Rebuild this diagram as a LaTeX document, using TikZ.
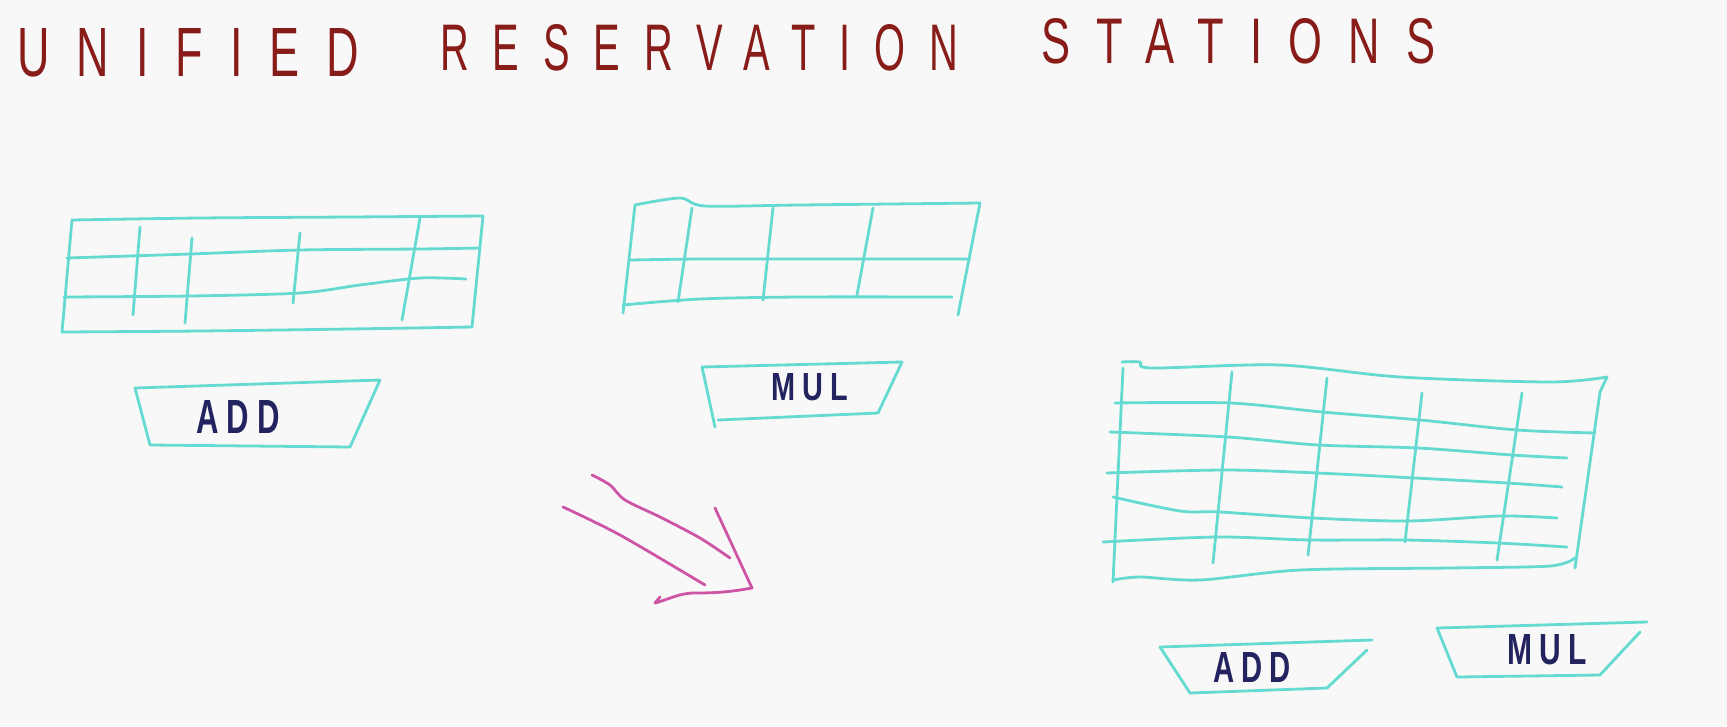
\documentclass[tikz,border=0pt]{standalone}
\usepackage{fontspec}
\setmainfont{Liberation Sans}
\newfontfamily\titlefont[LetterSpace=60]{Liberation Sans}
\newfontfamily\labelfont[LetterSpace=25]{Liberation Sans}
\definecolor{bgc}{RGB}{248,248,249}
\definecolor{gridc}{RGB}{100,218,208}
\definecolor{titlec}{RGB}{135,28,25}
\definecolor{navy}{RGB}{35,35,95}
\definecolor{pinkc}{RGB}{205,85,165}
\begin{document}
\begin{tikzpicture}[x=1pt,y=-1pt,
  grid/.style={draw=gridc, line width=2.8pt, line cap=round, line join=round},
  arr/.style={draw=pinkc, line width=2.8pt, line cap=round, line join=round},
  ttl/.style={inner sep=0pt, text=titlec},
  lbl/.style={inner sep=0pt, text=navy}]
\useasboundingbox[fill=bgc] (0,0) rectangle (1727,726);

% title
\node[ttl, anchor=north west] (t1) at (17,28) {\resizebox{342pt}{48pt}{\titlefont UNIFIED}};
\node[ttl, anchor=north west] (t2) at (440,24) {\resizebox{518pt}{46pt}{\titlefont RESERVATION}};
\node[ttl, anchor=north west] (t3) at (1041,18) {\resizebox{394pt}{45pt}{\titlefont STATIONS}};

% table 1 (left)
\draw[grid] plot[smooth] coordinates {(72,220) (200,218) (350,217) (483,216)};
\draw[grid] (483,216) -- (472,327);
\draw[grid] plot[smooth] coordinates {(62,332) (200,331) (350,329) (472,327)};
\draw[grid] (72,220) -- (62,332);
\draw[grid] plot[smooth] coordinates {(67,258) (190,254) (300,250) (420,249) (480,248)};
\draw[grid] plot[smooth] coordinates {(64,297) (190,296) (300,293) (360,285) (420,278) (466,279)};
\draw[grid] (140,227) -- (133,315);
\draw[grid] (192,238) -- (185,323);
\draw[grid] (300,233) -- (293,303);
\draw[grid] (420,218) -- (402,320);

% ADD box 1
\draw[grid] (135,388) -- (380,380) -- (350,447) -- (150,445) -- cycle;
\node[lbl] (add1) at (238,417) {\resizebox{83pt}{33pt}{\labelfont\bfseries ADD}};

% table 2 (middle)
\draw[grid] plot[smooth] coordinates {(635,205) (680,198) (705,206) (800,205) (980,203)};
\draw[grid] (980,203) -- (958,315);
\draw[grid] (635,205) -- (623,313);
\draw[grid] plot[smooth] coordinates {(630,260) (700,259) (800,259) (970,259)};
\draw[grid] plot[smooth] coordinates {(623,305) (700,299) (800,297) (952,297)};
\draw[grid] (692,208) -- (678,302);
\draw[grid] (773,208) -- (763,300);
\draw[grid] (873,208) -- (857,295);

% MUL box 1
\draw[grid] (715,427) -- (702,367) -- (902,362) -- (878,413) -- (718,420);
\node[lbl] (mul1) at (810,387) {\resizebox{77pt}{27pt}{\labelfont\bfseries MUL}};

% arrow
\draw[arr] plot[smooth] coordinates {(592,475) (610,485) (625,500) (660,517) (700,538) (730,558)};
\draw[arr] plot[smooth] coordinates {(563,507) (620,535) (705,585)};
\draw[arr] (715,508) -- (752,588) to[out=190,in=0] (695,593) to[out=180,in=15] (655,603) -- (660,597);

% table 3 (unified)
\draw[grid] plot[smooth] coordinates {(1122,362) (1140,362) (1152,368) (1280,365) (1400,377) (1550,382) (1607,377)};
\draw[grid] (1607,377) -- (1600,392) -- (1575,568);
\draw[grid] plot[smooth] coordinates {(1113,580) (1140,577) (1200,580) (1300,570) (1450,568) (1550,566) (1575,558)};
\draw[grid] (1123,368) -- (1113,582);
\draw[grid] plot[smooth] coordinates {(1115,403) (1230,403) (1322,412) (1420,420) (1517,430) (1595,433)};
\draw[grid] plot[smooth] coordinates {(1110,432) (1228,437) (1318,445) (1418,448) (1512,455) (1567,458)};
\draw[grid] plot[smooth] coordinates {(1107,473) (1225,470) (1317,473) (1415,478) (1507,483) (1562,487)};
\draw[grid] plot[smooth] coordinates {(1113,497) (1180,511) (1220,512) (1312,518) (1408,521) (1500,516) (1557,518)};
\draw[grid] plot[smooth] coordinates {(1103,542) (1217,537) (1310,540) (1405,540) (1498,543) (1567,547)};
\draw[grid] (1232,372) -- (1213,563);
\draw[grid] (1327,378) -- (1308,555);
\draw[grid] (1422,393) -- (1405,542);
\draw[grid] (1522,393) -- (1497,560);

% ADD box 2
\draw[grid] (1160,647) -- (1372,640);
\draw[grid] (1367,650) -- (1327,688) -- (1190,693) -- (1160,647);
\node[lbl] (add2) at (1252,667) {\resizebox{78pt}{30pt}{\labelfont\bfseries ADD}};

% MUL box 2
\draw[grid] (1437,628) -- (1647,622);
\draw[grid] (1640,632) -- (1600,675) -- (1457,677) -- (1437,628);
\node[lbl] (mul2) at (1547,650) {\resizebox{80pt}{30pt}{\labelfont\bfseries MUL}};
\end{tikzpicture}
\end{document}
